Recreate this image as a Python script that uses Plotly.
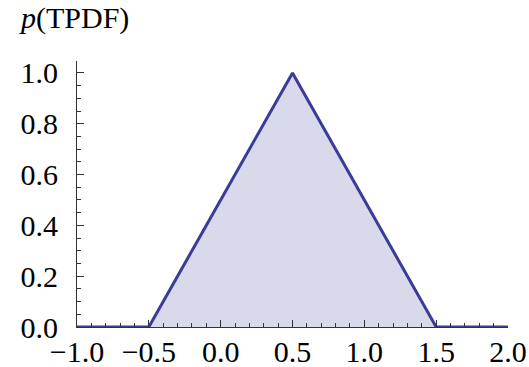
import plotly.graph_objects as go

# Triangular probability density: support [-0.5, 1.5], peak at 0.5
x_vals = [-1.0, -0.5, 0.5, 1.5, 2.0]
p_vals = [0.0, 0.0, 1.0, 0.0, 0.0]

x_ticks = [-1.0, -0.5, 0.0, 0.5, 1.0, 1.5, 2.0]
y_ticks = [0.0, 0.2, 0.4, 0.6, 0.8, 1.0]

LINE = "#3b3b98"
FILL = "#d9d9ec"
FONT = "Liberation Serif"
FS = 30

fig = go.Figure()
fig.add_trace(go.Scatter(
    x=x_vals, y=p_vals, mode="lines",
    line=dict(color=LINE, width=3),
    fill="tozeroy", fillcolor=FILL,
    hoverinfo="skip",
))

fig.update_layout(
    width=529, height=367,
    margin=dict(l=77, r=21, t=61, b=40),
    paper_bgcolor="white", plot_bgcolor="white",
    showlegend=False,
    font=dict(family=FONT, size=FS, color="black"),
    annotations=[dict(
        text="<i>p</i>(TPDF)", xref="paper", yref="paper",
        x=-0.14, y=1.234, xanchor="left", yanchor="top",
        showarrow=False, font=dict(family=FONT, size=FS, color="black"),
    )],
)

fig.update_xaxes(
    range=[-1.0, 2.0], tickvals=x_ticks, tickformat=".1f",
    showgrid=False, zeroline=False, automargin=False,
    showline=True, linecolor="#333", linewidth=1,
    ticks="inside", ticklen=7, tickcolor="#333", tickwidth=1,
    minor=dict(dtick=0.1, tick0=0, ticks="inside", ticklen=4, tickcolor="#333", tickwidth=1),
    ticklabelstandoff=-2,
)
fig.update_yaxes(
    range=[0.0, 1.047], tickvals=y_ticks, tickformat=".1f",
    showgrid=False, zeroline=False, automargin=False,
    showline=True, linecolor="#333", linewidth=1,
    ticks="inside", ticklen=7, tickcolor="#333", tickwidth=1,
    minor=dict(dtick=0.05, tick0=0, ticks="inside", ticklen=4, tickcolor="#333", tickwidth=1),
    ticklabelstandoff=12,
)

fig.write_html("out.html")
